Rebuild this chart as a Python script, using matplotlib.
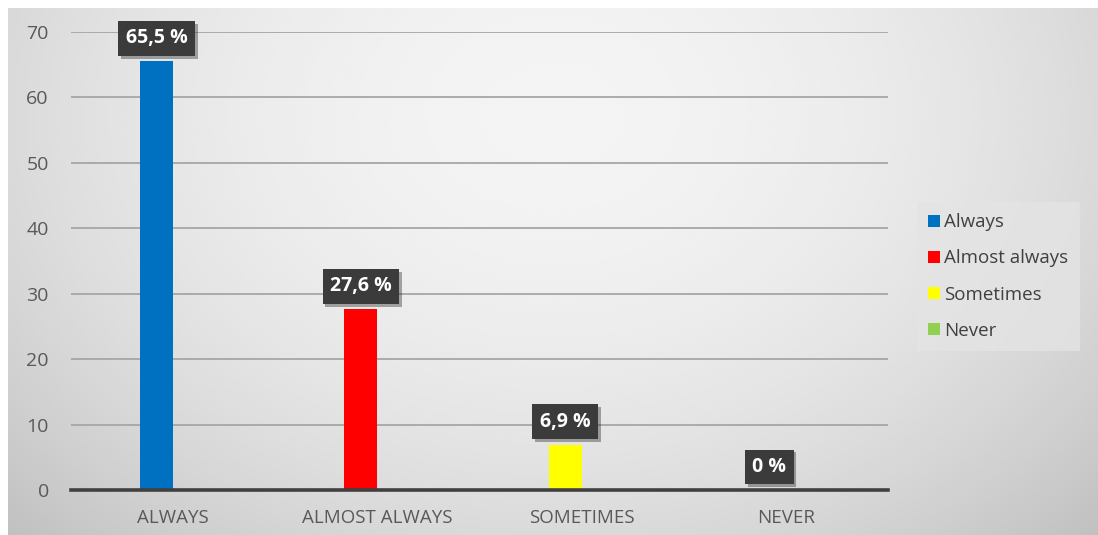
import numpy as np
import matplotlib
matplotlib.use("Agg")
import matplotlib.pyplot as plt
from matplotlib import patheffects as pe

plt.rcParams['font.family'] = ['Open Sans', 'DejaVu Sans']

# responses (percent)
categories = ['ALWAYS', 'ALMOST ALWAYS', 'SOMETIMES', 'NEVER']
series_names = ['Always', 'Almost always', 'Sometimes', 'Never']
values = [65.5, 27.6, 6.9, 0.0]
value_labels = ['65,5 %', '27,6 %', '6,9 %', '0 %']
colors = ['#0070C0', '#FF0000', '#FFFF00', '#92D050']

W, H = 1098, 535
fig = plt.figure(figsize=(W / 100, H / 100), dpi=100)
fig.patch.set_facecolor('white')

# grey radial-gradient chart area
bg = fig.add_axes([8 / W, 0, 1 - 8 / W, 1 - 8 / H])
u = np.linspace(0, 1, 400)
v = np.linspace(0, 1, 200)
uu, vv = np.meshgrid(u, v)
r2 = ((uu - 0.5) / 0.5) ** 2 + ((vv - 0.2) / 0.8) ** 2
shade = np.clip(0.955 - 0.1 * r2, 0, 1)
bg.imshow(shade, cmap='gray', vmin=0, vmax=1, aspect='auto',
          extent=[0, 1, 1, 0], interpolation='bicubic')
bg.set_axis_off()

ax = fig.add_axes([71 / W, 1 - 490 / H, (888 - 71) / W, (490 - 32) / H])
ax.patch.set_alpha(0)

x = np.arange(len(categories))
bar_w = 0.162
for i in range(len(categories)):
    ax.bar(x[i] - bar_w / 2, values[i], width=bar_w, color=colors[i],
           label=series_names[i], zorder=3)

for i in range(len(categories)):
    t = ax.annotate(value_labels[i], xy=(x[i] - bar_w / 2, values[i]),
                    xytext=(0, 13), textcoords='offset pixels',
                    ha='center', va='bottom', color='white',
                    fontsize=14, fontweight='bold', zorder=5,
                    bbox=dict(boxstyle='square,pad=0.38', fc='#3b3b3b',
                              ec='none'))
    t.get_bbox_patch().set_path_effects(
        [pe.SimplePatchShadow(offset=(2, -2), alpha=0.35), pe.Normal()])

ax.set_xlim(-0.5, len(categories) - 0.5)
ax.set_ylim(0, 70)
ax.set_yticks(np.arange(0, 71, 10))
ax.set_xticks(x)
ax.set_xticklabels(categories)
ax.tick_params(axis='both', length=0, labelcolor='#595959')
ax.tick_params(axis='y', labelsize=14, pad=16)
ax.tick_params(axis='x', labelsize=13.5, pad=14)
ax.grid(axis='y', color='#a6a6a6', linewidth=1.3, zorder=1)
for s in ['top', 'right', 'left']:
    ax.spines[s].set_visible(False)
ax.spines['bottom'].set_color('#404040')
ax.spines['bottom'].set_linewidth(2.6)
ax.spines['bottom'].set_zorder(4)

leg = ax.legend(loc='upper left', bbox_to_anchor=(917 / W, 1 - 202 / H),
                bbox_transform=fig.transFigure, frameon=True, fancybox=False,
                fontsize=13.5, labelcolor='#404040', handlelength=0.6,
                handleheight=0.6, handletextpad=0.25, labelspacing=0.97,
                borderpad=0.6, borderaxespad=0)
leg.get_frame().set_facecolor('#e4e4e4')
leg.get_frame().set_edgecolor('none')

fig.savefig('out.png', dpi=100)
